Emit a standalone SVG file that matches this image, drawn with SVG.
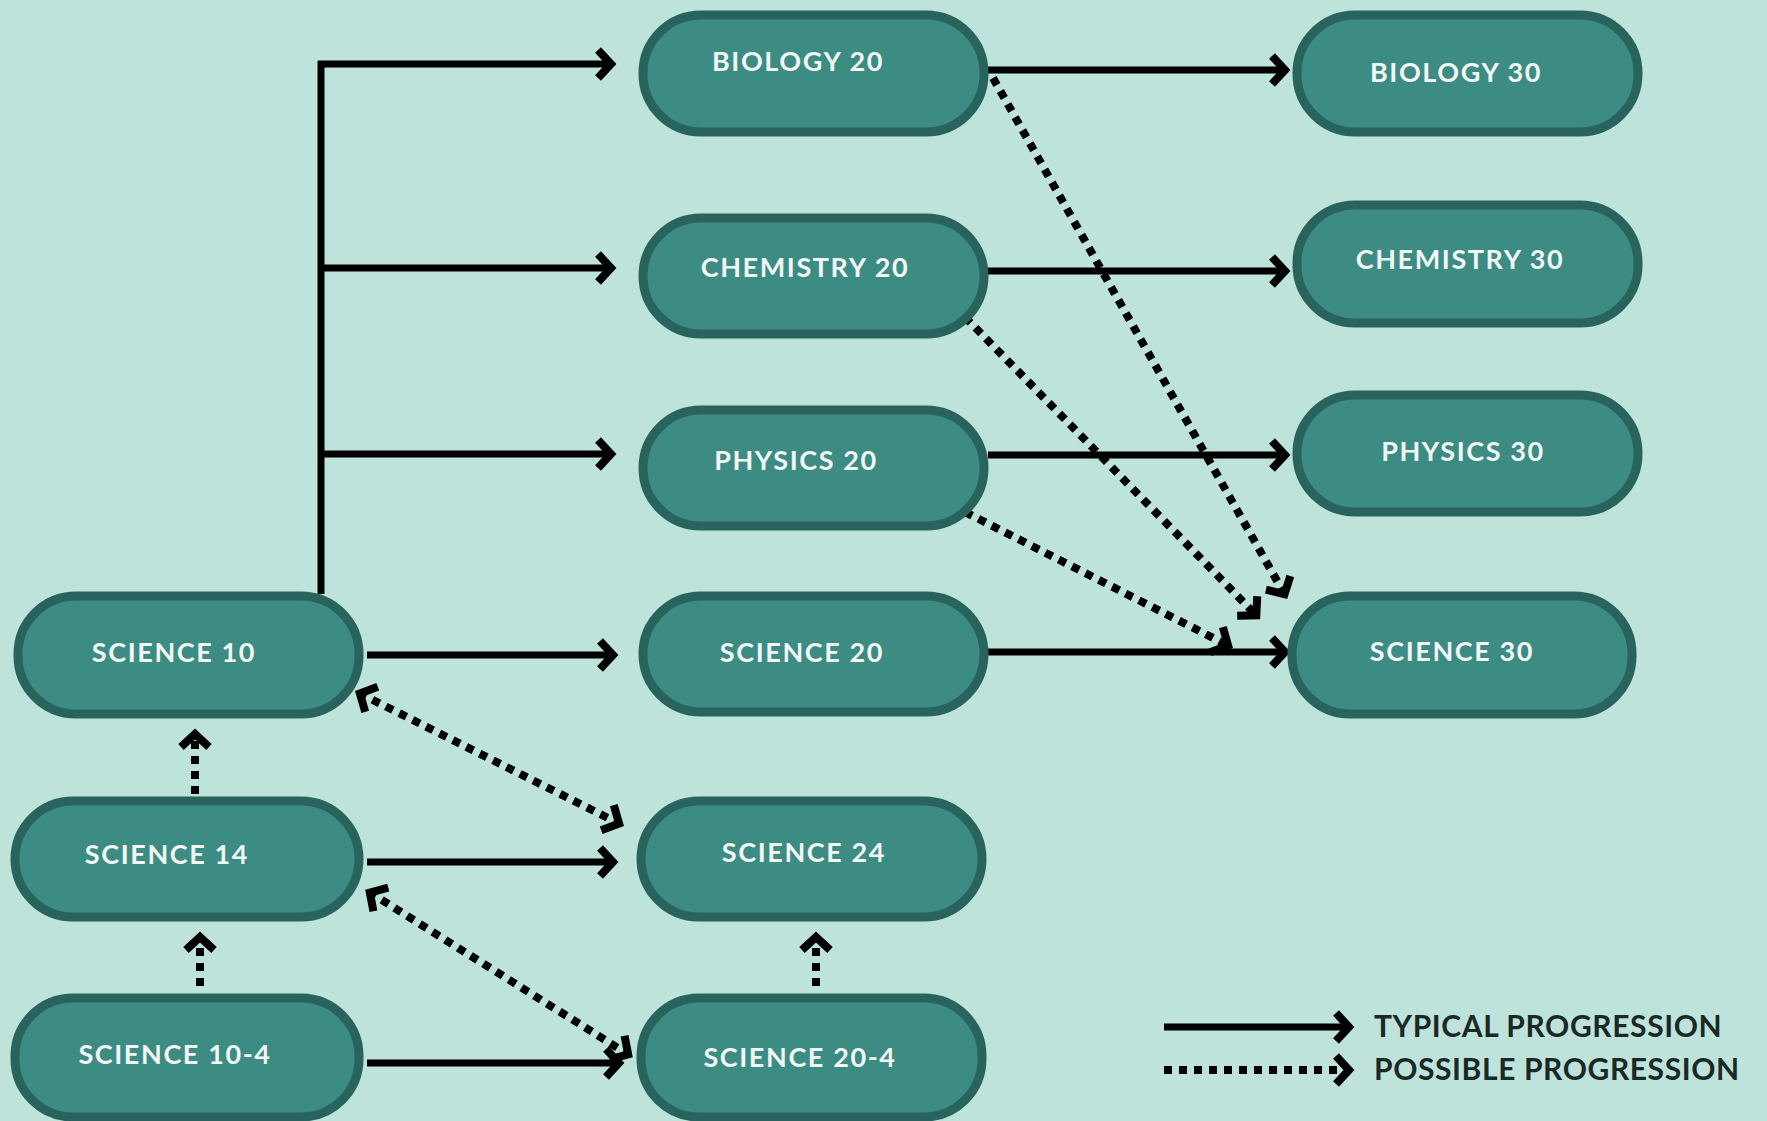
<svg xmlns="http://www.w3.org/2000/svg" width="1767" height="1121" viewBox="0 0 1767 1121">
<defs>
<style>
.node rect{fill:#3c8c83;stroke:#28645d;stroke-width:9}
.node text{fill:#f2f7f5;font-family:Lato,"Open Sans","Liberation Sans",sans-serif;font-weight:700;font-size:27px;letter-spacing:1.6px;text-anchor:middle}
.solid{stroke:#000;stroke-width:7;fill:none}
.dot{stroke:#000;stroke-width:8;fill:none;stroke-dasharray:8 7}
.legend{fill:#1a2826;font-family:Lato,"Open Sans","Liberation Sans",sans-serif;font-weight:700;font-size:30px;letter-spacing:0.6px}
</style>
<marker id="arr" markerUnits="userSpaceOnUse" markerWidth="24" markerHeight="36" viewBox="0 0 24 36" refX="18" refY="18" orient="auto-start-reverse" overflow="visible">
<path d="M4,4 L17,18 L4,32" fill="none" stroke="#000" stroke-width="8" stroke-linejoin="miter"/>
</marker>
</defs>
<rect width="1767" height="1121" fill="#bee3db"/>
<g id="connectors">
<path class="solid" d="M321,594 V61"/>
<path class="solid" d="M318,64 H612" marker-end="url(#arr)"/>
<path class="solid" d="M321,268 H612" marker-end="url(#arr)"/>
<path class="solid" d="M321,454 H612" marker-end="url(#arr)"/>
<path class="solid" d="M367,655 H614" marker-end="url(#arr)"/>
<path class="solid" d="M367,862 H614" marker-end="url(#arr)"/>
<path class="solid" d="M367,1063 H620" marker-end="url(#arr)"/>
<path class="solid" d="M988,70 H1286" marker-end="url(#arr)"/>
<path class="solid" d="M988,271 H1286" marker-end="url(#arr)"/>
<path class="solid" d="M988,455 H1286" marker-end="url(#arr)"/>
<path class="solid" d="M988,652 H1286" marker-end="url(#arr)"/>
<path class="dot" d="M993,78 L1285,595" marker-end="url(#arr)"/>
<path class="dot" d="M965,317 L1257,616" marker-end="url(#arr)"/>
<path class="dot" d="M965,512 L1229,646" marker-end="url(#arr)"/>
<path class="dot" d="M359,693 L620,824" marker-start="url(#arr)" marker-end="url(#arr)"/>
<path class="dot" d="M369,892 L629,1055" marker-start="url(#arr)" marker-end="url(#arr)"/>
<path class="dot" d="M195,794 V733" marker-end="url(#arr)"/>
<path class="dot" d="M200,986 V936" marker-end="url(#arr)"/>
<path class="dot" d="M816,986 V936" marker-end="url(#arr)"/>
</g>
<g id="bio20" class="node"><rect x="643" y="15" width="341" height="117" rx="58"/><text x="798" y="71">BIOLOGY 20</text></g>
<g id="chem20" class="node"><rect x="643" y="218" width="341" height="116" rx="58"/><text x="805" y="277">CHEMISTRY 20</text></g>
<g id="phys20" class="node"><rect x="643" y="410" width="341" height="116" rx="58"/><text x="796" y="470">PHYSICS 20</text></g>
<g id="sci20" class="node"><rect x="643" y="596" width="341" height="116" rx="58"/><text x="802" y="662">SCIENCE 20</text></g>
<g id="sci24" class="node"><rect x="641" y="801" width="341" height="116" rx="58"/><text x="804" y="862">SCIENCE 24</text></g>
<g id="sci20-4" class="node"><rect x="641" y="998" width="341" height="119" rx="58"/><text x="800" y="1067">SCIENCE 20-4</text></g>
<g id="sci10" class="node"><rect x="18" y="596" width="341" height="118" rx="58"/><text x="174" y="662">SCIENCE 10</text></g>
<g id="sci14" class="node"><rect x="15" y="801" width="344" height="116" rx="58"/><text x="167" y="864">SCIENCE 14</text></g>
<g id="sci10-4" class="node"><rect x="15" y="998" width="344" height="119" rx="58"/><text x="175" y="1064">SCIENCE 10-4</text></g>
<g id="bio30" class="node"><rect x="1297" y="15" width="341" height="117" rx="58"/><text x="1456" y="82">BIOLOGY 30</text></g>
<g id="chem30" class="node"><rect x="1297" y="205" width="341" height="118" rx="58"/><text x="1460" y="269">CHEMISTRY 30</text></g>
<g id="phys30" class="node"><rect x="1297" y="395" width="341" height="117" rx="58"/><text x="1463" y="461">PHYSICS 30</text></g>
<g id="sci30" class="node"><rect x="1292" y="596" width="340" height="118" rx="58"/><text x="1452" y="661">SCIENCE 30</text></g>
<g id="legend">
<path class="solid" d="M1164,1027 H1350" marker-end="url(#arr)"/>
<path class="dot" d="M1164,1070 H1350" marker-end="url(#arr)"/>
<text class="legend" x="1374" y="1037">TYPICAL PROGRESSION</text>
<text class="legend" x="1374" y="1080">POSSIBLE PROGRESSION</text>
</g>
</svg>
